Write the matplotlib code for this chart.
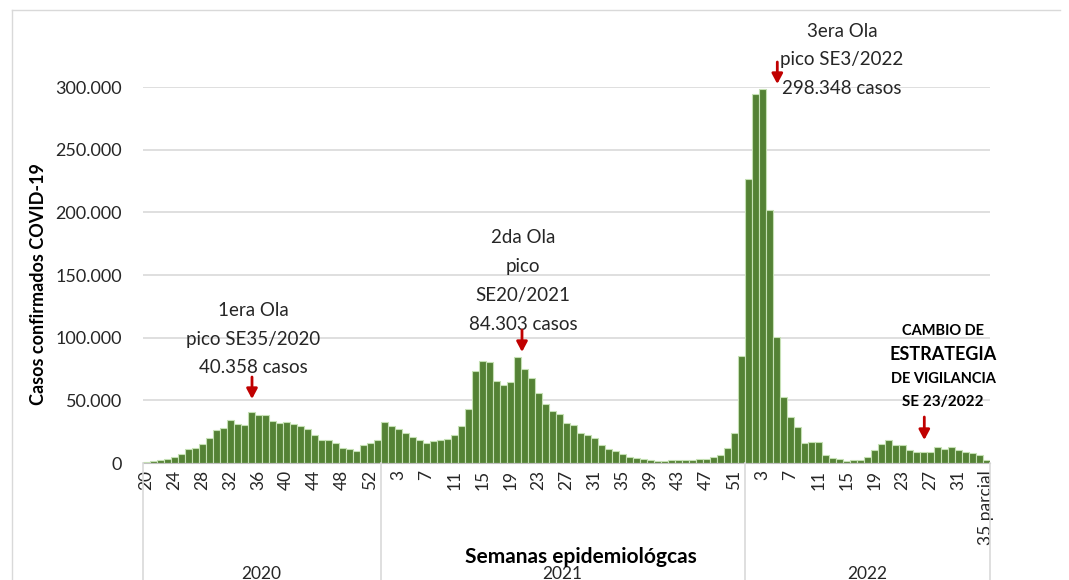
import matplotlib
matplotlib.use("Agg")
import matplotlib.pyplot as plt
from matplotlib.ticker import FuncFormatter
from matplotlib.transforms import blended_transform_factory
from matplotlib.lines import Line2D
import numpy as np

plt.rcParams['font.family'] = ['Lato', 'DejaVu Sans']

# ---- data ----
years = ["2020", "2021", "2022"]
weeks_2020 = list(range(20, 54))
weeks_2021 = list(range(1, 53))
weeks_2022 = list(range(1, 36))

cases_2020 = [1000, 1900, 2100, 3200, 5000, 7200, 10900, 11700, 14900, 19700,
              26300, 27700, 34300, 31400, 30300, 40358, 38000, 38500, 33800, 31900,
              33000, 31400, 29800, 26900, 22600, 18600, 18100, 15700, 12000, 10900,
              9300, 14100, 15700, 18600]
cases_2021 = [32400, 29300, 27100, 23700, 21000, 18400, 16000, 17600, 18100, 19200,
              22100, 29800, 43400, 73700, 81400, 80900, 65700, 62500, 64400, 84303,
              74700, 67600, 55600, 47100, 41800, 39400, 31900, 30100, 23700, 22300,
              19900, 14600, 10900, 9600, 7000, 5000, 4000, 3200, 2100, 1900,
              1900, 2400, 2700, 2700, 2700, 3500, 3500, 5000, 6600, 12200,
              23700, 85600]
cases_2022 = [226900, 294500, 298348, 201900, 100300, 52400, 37000, 28700, 16000, 16500,
              17000, 6100, 4300, 2900, 1600, 2700, 2400, 5000, 10100, 14900,
              18100, 14400, 14400, 10100, 8800, 9000, 9000, 12500, 10900, 12500,
              10400, 8500, 7700, 6600, 2400]

y_ticks = [0, 50000, 100000, 150000, 200000, 250000, 300000]

labels = [str(w) for w in weeks_2020] + [str(w) for w in weeks_2021] + [str(w) for w in weeks_2022]
labels[-1] = "35 parcial"
values = cases_2020 + cases_2021 + cases_2022
year_sizes = [len(cases_2020), len(cases_2021), len(cases_2022)]

# ---- figure ----
W, H = 1069, 580
fig = plt.figure(figsize=(W / 100, H / 100), dpi=100)
fig.patch.set_facecolor("white")

x0_px, x1_px = 142.7, 989.7
y0_px, y1_px = 463, 87
ax = fig.add_axes([x0_px / W, 1 - y0_px / H, (x1_px - x0_px) / W, (y0_px - y1_px) / H])

x = np.arange(len(values))
ax.bar(x, values, width=1.0, color="#548235", edgecolor="#c5e0b4", linewidth=0.8, zorder=3)

ax.set_xlim(-0.5, len(values) - 0.5)
ax.set_ylim(0, 300000)
ax.set_yticks(y_ticks)
ax.yaxis.set_major_formatter(FuncFormatter(lambda v, p: f"{int(v):,}".replace(",", ".")))
ax.grid(axis="y", color="#d9d9d9", linewidth=1.2, zorder=0)
ax.set_axisbelow(True)
for s in ["left", "right", "top"]:
    ax.spines[s].set_visible(False)
ax.spines["bottom"].set_color("#bfbfbf")
ax.spines["bottom"].set_zorder(4)

tick_idx = list(range(0, len(values), 4))
ax.set_xticks(tick_idx)
ax.set_xticklabels([labels[i] for i in tick_idx], rotation=90, fontsize=12.5, color="#262626")
ax.tick_params(axis="x", length=0, pad=5)
ax.tick_params(axis="y", length=0, pad=15, labelsize=13, labelcolor="#262626")

ax.set_ylabel("Casos confirmados COVID-19", fontsize=13, fontweight="bold", color="black")
ax.yaxis.set_label_coords((47 - x0_px) / (x1_px - x0_px), (y0_px - 284) / (y0_px - y1_px))

# year separators and year labels
trans = blended_transform_factory(ax.transData, fig.transFigure)
bounds = np.concatenate([[0], np.cumsum(year_sizes)]) - 0.5
for b in bounds:
    fig.add_artist(Line2D([b, b], [1 - y0_px / H, 0], transform=trans, color="#d9d9d9", lw=1.2))
for i, yr in enumerate(years):
    cx = (bounds[i] + bounds[i + 1]) / 2
    fig.text(cx, 1 - 574 / H, yr, transform=trans, ha="center", va="center",
             fontsize=12.5, color="#262626")

fig.text(581 / W, 1 - 557 / H, "Semanas epidemiológcas", ha="center", va="center",
         fontsize=15, fontweight="bold", color="black")

# chart border
fig.add_artist(Line2D([12 / W, 12 / W], [0, 1 - 10 / H], transform=fig.transFigure, color="#d9d9d9", lw=1))
fig.add_artist(Line2D([12 / W, 1060 / W], [1 - 10 / H, 1 - 10 / H], transform=fig.transFigure, color="#d9d9d9", lw=1))


def px2x(px):
    return (px - x0_px) / 7.0 - 0.5


def py2y(py):
    return (y0_px - py) * 300000 / (y0_px - y1_px)


txt_kw = dict(ha="center", va="center", fontsize=13.5, color="#262626", linespacing=1.85)
ax.text(px2x(253), py2y(339), "1era Ola\npico SE35/2020\n40.358 casos", **txt_kw)
ax.text(px2x(523), py2y(281), "2da Ola\npico\nSE20/2021\n84.303 casos", **txt_kw)
ax.text(px2x(842), py2y(60), "3era Ola\npico SE3/2022\n298.348 casos", **txt_kw)

ax.text(px2x(943), py2y(331), "CAMBIO DE", ha="center", va="center", fontsize=10.5, fontweight="bold", color="black")
ax.text(px2x(943), py2y(354), "ESTRATEGIA", ha="center", va="center", fontsize=13, fontweight="bold", color="black")
ax.text(px2x(943), py2y(379), "DE VIGILANCIA", ha="center", va="center", fontsize=10.5, fontweight="bold", color="black")
ax.text(px2x(943), py2y(402), "SE 23/2022", ha="center", va="center", fontsize=11, fontweight="bold", color="black")

arrow_kw = dict(arrowstyle="-|>,head_width=0.32,head_length=0.6", color="#c00000", lw=2.0, mutation_scale=10,
                shrinkA=0, shrinkB=0)
for (ax_px, top_px, bot_px) in [(252, 377, 399), (522, 330, 352), (777.3, 62, 84), (924.3, 417, 440)]:
    ax.annotate("", xy=(px2x(ax_px), py2y(bot_px)), xytext=(px2x(ax_px), py2y(top_px)),
                arrowprops=arrow_kw, annotation_clip=False)

fig.savefig("out.png", dpi=100)
